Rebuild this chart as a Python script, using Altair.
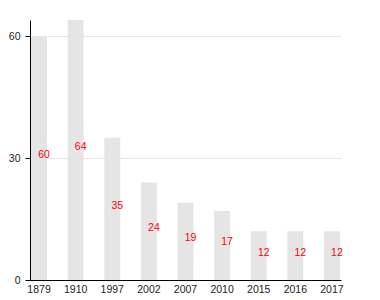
import altair as alt
import pandas as pd

years = ["1879", "1910", "1997", "2002", "2007", "2010", "2015", "2016", "2017"]
values = [60, 64, 35, 24, 19, 17, 12, 12, 12]

df = pd.DataFrame({"year": years, "value": values})

FONT = "Liberation Sans"
yscale = alt.Scale(domain=[0, 64], nice=False)
yaxis = alt.Axis(values=[0, 30, 60], tickSize=5, tickColor="#000",
                 domainColor="#000", gridColor="#e6e6e6",
                 labelPadding=5, labelFontSize=10.5, labelColor="#222",
                 labelFont=FONT)
xscale = alt.Scale(paddingInner=0.566, paddingOuter=0.03)
xaxis = alt.Axis(labelAngle=0, ticks=False, domainColor="#000", domainWidth=1,
                 labelPadding=4, labelFontSize=10.5, labelColor="#222", labelFont=FONT)

bars = alt.Chart(df).mark_bar(color="#e5e5e5").encode(
    x=alt.X("year:N", sort=years, title=None, scale=xscale, axis=xaxis),
    y=alt.Y("value:Q", title=None, scale=yscale, axis=yaxis),
)

labels = alt.Chart(df).transform_calculate(half="datum.value / 2").mark_text(
    color="#ff0000", fontSize=10.5, font=FONT, align="center", baseline="alphabetic", dx=5
).encode(
    x=alt.X("year:N", sort=years, title=None, scale=xscale, axis=xaxis),
    y=alt.Y("half:Q", title=None, scale=yscale, axis=yaxis),
    text=alt.Text("value:Q"),
)

chart = (bars + labels).properties(
    width=311, height=260,
    autosize=alt.AutoSizeParams(type="none"),
    padding={"left": 30, "top": 20, "right": 39, "bottom": 20},
).configure_view(stroke=None)

chart.save("out.html", embed_options={"renderer": "svg", "actions": False})
